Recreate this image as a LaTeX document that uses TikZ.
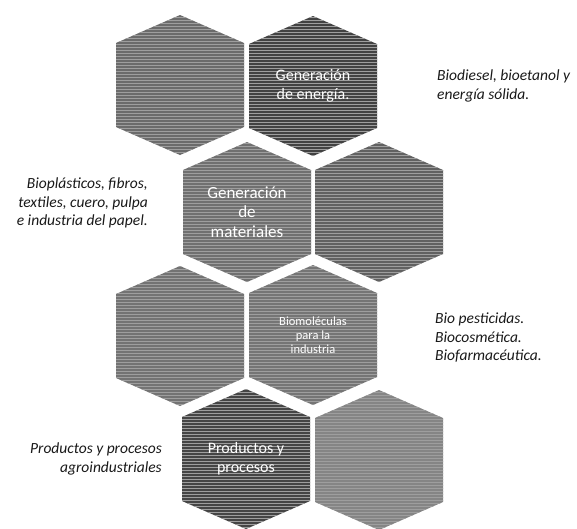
\documentclass[tikz,border=0pt]{standalone}
\usepackage{fontspec}
\setmainfont{Carlito}
\usetikzlibrary{backgrounds,patterns}
\tikzset{
  hexcell/.style={fill=#1, draw=none,
    postaction={pattern=horizontal lines, pattern color=black!38}},
  hextext/.style={text=white, align=center, inner sep=0pt,
    font=\fontsize{16}{19}\selectfont},
  sidetext/.style={text=black!90, inner sep=0pt,
    font=\itshape\fontsize{15.5}{18.5}\selectfont}
}

\begin{document}
\begin{tikzpicture}[x=1pt, y=-1pt]
  \useasboundingbox (0,0) rectangle (577,528);

  % honeycomb cells (centres), text inside where the reference has it
  \coordinate (enerL) at (180,85);
  \node[hextext] (ener) at (313,86) {Generación\\de energía.};
  \node[hextext, font=\fontsize{17}{19.5}\selectfont] (mat) at (247,212) {Generación\\de\\materiales};
  \coordinate (matR) at (379,212);
  \coordinate (bioL) at (180,336);
  \node[hextext, font=\fontsize{12.5}{14}\selectfont] (bio) at (313,335) {Biomoléculas\\para la\\industria};
  \node[hextext] (prod) at (246,459) {Productos y\\procesos};
  \coordinate (prodR) at (379,460);

  % side texts
  \node[sidetext, anchor=west, align=left] (lblener) at (437,86) {Biodiesel, bioetanol y\\energía sólida.};
  \node[sidetext, anchor=east, align=right] (lblmat) at (148,203) {Bioplásticos, fibros,\\textiles, cuero, pulpa\\e industria del papel.};
  \node[sidetext, anchor=west, align=left] (lblbio) at (435,338) {Bio pesticidas.\\Biocosmética.\\Biofarmacéutica.};
  \node[sidetext, anchor=east, align=right] (lblprod) at (162,459) {Productos y procesos\\agroindustriales};

  \begin{scope}[on background layer]
    \foreach \cell/\shade in {enerL/58, ener/74, mat/56, matR/62, bioL/55, bio/54, prod/73, prodR/48}
      \fill[hexcell=black!\shade] (\cell.center) ++(0,-70) -- ++(64,28) -- ++(0,84)
        -- ++(-64,28) -- ++(-64,-28) -- ++(0,-84) -- cycle;
  \end{scope}
\end{tikzpicture}
\end{document}
